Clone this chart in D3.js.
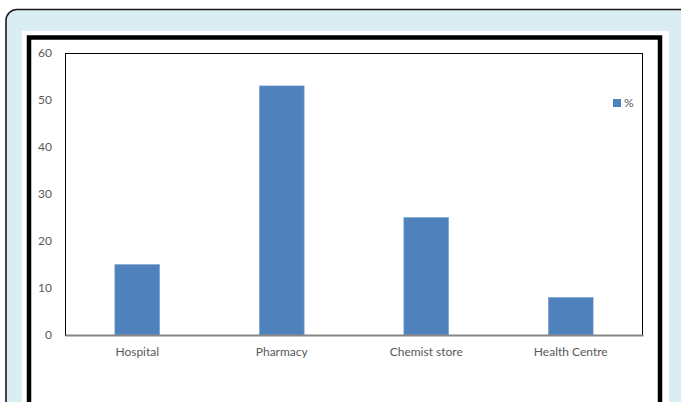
<!DOCTYPE html>
<html>
<head>
<meta charset="utf-8">
<script src="https://cdn.jsdelivr.net/npm/d3@7"></script>
<style>
  body { margin: 0; background: #fff; }
  text { font-family: Lato, "Open Sans", sans-serif; fill: #595959; }
</style>
</head>
<body>
<div id="chart"></div>
<script>
// chart data
const categories = ['Hospital', 'Pharmacy', 'Chemist store', 'Health Centre'];
const percentValues = [15, 53, 25, 8];
const yTicks = [0, 10, 20, 30, 40, 50, 60];
const seriesName = '%';

const W = 681, H = 402;
const svg = d3.select('#chart').append('svg')
    .attr('width', W)
    .attr('height', H);

// outer light blue panel with rounded corner
svg.append('rect')
    .attr('x', 6).attr('y', 9.5)
    .attr('width', 700).attr('height', 420)
    .attr('rx', 11)
    .attr('fill', '#d9edf2')
    .attr('stroke', '#1a1a1a')
    .attr('stroke-width', 1.6);

// white card
svg.append('rect')
    .attr('x', 22).attr('y', 31)
    .attr('width', 647).attr('height', 400)
    .attr('fill', '#fff');

// thick black frame
svg.append('rect')
    .attr('x', 29).attr('y', 37.5)
    .attr('width', 631).attr('height', 400)
    .attr('fill', 'none')
    .attr('stroke', '#000')
    .attr('stroke-width', 4.5);

var margin = { top: 53, left: 65, right: 643, bottom: 335 };

var x = d3.scaleBand()
    .domain(categories)
    .range([margin.left, margin.right])
    .paddingInner(0.69)
    .paddingOuter(0.345);

var y = d3.scaleLinear()
    .domain([0, 60])
    .range([margin.bottom, margin.top]);

// plot area box
svg.append('rect')
    .attr('x', margin.left + 0.5).attr('y', margin.top + 0.5)
    .attr('width', margin.right - margin.left - 1)
    .attr('height', margin.bottom - margin.top)
    .attr('fill', 'none')
    .attr('stroke', '#000')
    .attr('stroke-width', 1);

// bars
svg.selectAll('.bar')
    .data(categories)
    .enter()
    .append('rect')
    .attr('class', 'bar')
    .attr('x', d => x(d))
    .attr('y', (d, i) => y(percentValues[i]))
    .attr('width', x.bandwidth())
    .attr('height', (d, i) => y(0) - y(percentValues[i]))
    .attr('fill', '#4f81bd')
    .attr('stroke', '#7ea6d6')
    .attr('stroke-width', 0.6);

// y axis labels
var yAxis = svg.append('g')
    .attr('transform', 'translate(' + margin.left + ',0)')
    .call(d3.axisLeft(y).tickValues(yTicks).tickSize(0).tickPadding(13));
yAxis.select('.domain').remove();
yAxis.selectAll('text').style('font-size', '12px').attr('font-family', null);

// x axis
var xAxis = svg.append('g')
    .attr('transform', 'translate(0,' + margin.bottom + ')')
    .call(d3.axisBottom(x).tickSize(0).tickPadding(12));
xAxis.select('.domain')
    .attr('stroke', '#868686')
    .attr('stroke-width', 2);
xAxis.selectAll('text').style('font-size', '12px').attr('font-family', null);

// legend
var legend = svg.append('g').attr('transform', 'translate(613,99)');
legend.append('rect')
    .attr('width', 8).attr('height', 8)
    .attr('fill', '#4f81bd');
legend.append('text')
    .attr('x', 11).attr('y', 8)
    .style('font-size', '12px')
    .text(seriesName);
</script>
</body>
</html>
